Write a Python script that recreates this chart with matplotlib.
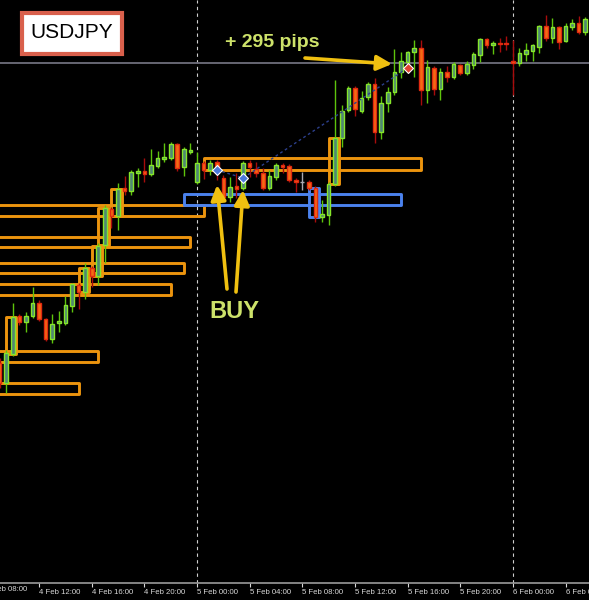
import numpy as np
import matplotlib
matplotlib.use("Agg")
import matplotlib.pyplot as plt
from matplotlib.patches import Rectangle

# USDJPY M30 candles, index 0 = 5 Feb 00:00 (one step = 30 min)
bar_idx = np.arange(-30, 60)
opens = [117.37, 117.17, 117.46, 117.84, 117.78, 117.84, 117.97, 117.81, 117.61, 117.77,
         117.77, 117.94, 118.15, 118.08, 118.32, 118.24, 118.55, 118.91, 118.84, 119.12,
         119.09, 119.27, 119.29, 119.26, 119.34, 119.41, 119.42, 119.56, 119.33, 119.48,
         119.18, 119.37, 119.30, 119.38, 119.22, 119.03, 119.14, 119.12, 119.37, 119.31,
         119.27, 119.12, 119.23, 119.35, 119.34, 119.20, 119.18, 119.18, 119.12, 118.83,
         118.85, 119.16, 119.62, 119.90, 120.12, 119.89, 120.03, 120.16, 119.68, 119.97,
         120.08, 120.28, 120.38, 120.48, 120.52, 120.10, 120.32, 120.11, 120.28, 120.23,
         120.35, 120.27, 120.35, 120.45, 120.61, 120.55, 120.57, 120.57, 120.39, 120.37,
         120.46, 120.49, 120.53, 120.74, 120.62, 120.73, 120.59, 120.73, 120.77, 120.68]
highs = [117.42, 117.50, 117.97, 117.86, 117.88, 118.13, 118.00, 117.82, 117.86, 117.89,
         118.04, 118.17, 118.17, 118.37, 118.34, 118.57, 118.95, 118.93, 119.17, 119.24,
         119.30, 119.32, 119.42, 119.51, 119.49, 119.57, 119.58, 119.57, 119.53, 119.57,
         119.48, 119.39, 119.40, 119.40, 119.25, 119.23, 119.27, 119.39, 119.40, 119.38,
         119.32, 119.30, 119.37, 119.37, 119.36, 119.22, 119.28, 119.20, 119.14, 119.00,
         119.18, 120.20, 119.95, 120.14, 120.14, 120.09, 120.18, 120.22, 120.04, 120.13,
         120.51, 120.48, 120.49, 120.60, 120.60, 120.40, 120.34, 120.32, 120.34, 120.38,
         120.36, 120.39, 120.48, 120.62, 120.62, 120.59, 120.62, 120.64, 120.60, 120.52,
         120.57, 120.56, 120.75, 120.85, 120.82, 120.74, 120.77, 120.81, 120.84, 120.83]
lows = [117.12, 117.07, 117.44, 117.75, 117.68, 117.82, 117.79, 117.59, 117.57, 117.68,
        117.75, 117.88, 117.91, 118.01, 118.13, 118.15, 118.37, 118.72, 118.70, 119.05,
        119.05, 119.13, 119.18, 119.24, 119.32, 119.38, 119.40, 119.29, 119.24, 119.46,
        119.16, 119.21, 119.25, 119.20, 119.00, 118.98, 119.02, 119.10, 119.23, 119.23,
        119.10, 119.10, 119.20, 119.27, 119.18, 119.08, 119.10, 119.10, 118.78, 118.78,
        118.75, 119.14, 119.53, 119.88, 119.84, 119.87, 120.00, 119.57, 119.61, 119.88,
        120.05, 120.22, 120.30, 120.23, 119.95, 119.97, 120.05, 120.00, 120.18, 120.21,
        120.25, 120.25, 120.31, 120.38, 120.52, 120.46, 120.48, 120.50, 120.05, 120.34,
        120.39, 120.39, 120.47, 120.59, 120.57, 120.51, 120.58, 120.70, 120.66, 120.65]
closes = [117.17, 117.47, 117.83, 117.78, 117.84, 117.97, 117.81, 117.61, 117.76, 117.79,
          117.95, 118.16, 118.08, 118.32, 118.24, 118.54, 118.92, 118.84, 119.11, 119.09,
          119.28, 119.29, 119.26, 119.35, 119.42, 119.43, 119.56, 119.32, 119.51, 119.50,
          119.37, 119.30, 119.37, 119.27, 119.03, 119.13, 119.11, 119.37, 119.33, 119.27,
          119.12, 119.24, 119.35, 119.33, 119.20, 119.18, 119.18, 119.12, 118.83, 118.86,
          119.16, 119.62, 119.89, 120.12, 119.91, 120.02, 120.16, 119.68, 119.97, 120.08,
          120.28, 120.39, 120.48, 120.52, 120.10, 120.33, 120.11, 120.28, 120.23, 120.36,
          120.27, 120.36, 120.46, 120.61, 120.55, 120.57, 120.56, 120.56, 120.37, 120.47,
          120.50, 120.55, 120.74, 120.62, 120.73, 120.58, 120.74, 120.77, 120.68, 120.81]

tick_idx = [-32, -24, -16, -8, 0, 8, 16, 24, 32, 40, 48, 56]
tick_labels = ["4 Feb 08:00", "4 Feb 12:00", "4 Feb 16:00", "4 Feb 20:00",
               "5 Feb 00:00", "5 Feb 04:00", "5 Feb 08:00", "5 Feb 12:00",
               "5 Feb 16:00", "5 Feb 20:00", "6 Feb 00:00", "6 Feb 04:00"]
day_breaks = [0, 48]
bid_price = 120.37

# zones: left index, right index, top, bottom
zone_left = [-40, -40, -40, -40, -40, -40, 1]
zone_right = [1, -1, -2, -4, -15, -18, 34]
zone_top = [118.95, 118.63, 118.37, 118.16, 117.49, 117.17, 119.42]
zone_bottom = [118.84, 118.53, 118.27, 118.05, 117.38, 117.06, 119.30]
blue_zone = (-2, 31, 119.06, 118.95)
impulse_orange = [-28, -17, -15, -14, -12, 21]
impulse_blue = [18]

trade_idx = [3, 7, 32]
trade_price = [119.30, 119.22, 120.32]

opens, highs, lows, closes = map(np.array, (opens, highs, lows, closes))

fig = plt.figure(figsize=(5.89, 6.0), dpi=100, facecolor="black")
ax = fig.add_axes([0, 17 / 600, 1, 583 / 600])
ax.set_facecolor("black")
ax.set_xlim(-29.94, 59.57)
ax.set_ylim(121 - 5.83, 121)

ORANGE = "#ec940e"
BLUE = "#4b82ee"

# day separators and bid line
for d in day_breaks:
    ax.axvline(d, color="#d0d0d0", lw=0.8, ls=(0, (3, 3)), zorder=1)
ax.axhline(bid_price, color="#6e6e7c", lw=1.3, zorder=1)

# zones
for l, r, t, b in zip(zone_left, zone_right, zone_top, zone_bottom):
    ax.add_patch(Rectangle((l, b), r - l, t - b, fill=False, ec=ORANGE, lw=2.1,
                           joinstyle="round", zorder=2))
l, r, t, b = blue_zone
ax.add_patch(Rectangle((l, b), r - l, t - b, fill=False, ec=BLUE, lw=2.1,
                       joinstyle="round", zorder=2))
for group, col in ((impulse_orange, ORANGE), (impulse_blue, BLUE)):
    for i in group:
        k = i + 30
        top, bot = max(opens[k], closes[k]), min(opens[k], closes[k])
        ax.add_patch(Rectangle((i - 1, bot), 1.55, top - bot, fill=False, ec=col,
                               lw=2.1, joinstyle="round", zorder=2))

# candles
bull = closes > opens
bear = closes < opens
flat = closes == opens
ax.vlines(bar_idx[bull], lows[bull], highs[bull], color="#5ec40c", lw=1, zorder=3)
ax.vlines(bar_idx[bear], lows[bear], highs[bear], color="#a80c0c", lw=1, zorder=3)
ax.vlines(bar_idx[flat], lows[flat], highs[flat], color="#a8a8b0", lw=1, zorder=3)
ax.bar(bar_idx[bull], closes[bull] - opens[bull], bottom=opens[bull], width=0.55,
       color="#4f8774", edgecolor="#86e62a", lw=1, zorder=4)
ax.bar(bar_idx[bear], opens[bear] - closes[bear], bottom=closes[bear], width=0.55,
       color="#f56a14", edgecolor="#e02a10", lw=1, zorder=4)
ax.hlines(opens[flat], bar_idx[flat] - 0.3, bar_idx[flat] + 0.3, color="#a8a8b0",
          lw=1, zorder=4)

# trade line and markers
ax.plot(trade_idx, trade_price, color="#2c3f8c", lw=1, ls=(0, (2, 2)), zorder=5)
ax.plot(trade_idx[:2], trade_price[:2], "D", ms=5, mfc="#4a78d8", mec="white",
        mew=0.8, zorder=6)
ax.plot(trade_idx[2], trade_price[2], "D", ms=5, mfc="#e04030", mec="white",
        mew=0.8, zorder=6)

# axis styling
for s in ("top", "left", "right"):
    ax.spines[s].set_visible(False)
ax.spines["bottom"].set_color("#9a9a9a")
ax.spines["bottom"].set_linewidth(1.2)
ax.set_yticks([])
shown = [(t, s) for t, s in zip(tick_idx, tick_labels) if t > -29.9]
ax.set_xticks([t for t, _ in shown])
ax.set_xticklabels([s for _, s in shown], fontsize=5.6, family="Liberation Sans",
                   color="#d8d8d8")
for lab in ax.get_xticklabels():
    lab.set_ha("left")
ax.tick_params(axis="x", colors="#d8d8d8", direction="out", length=3, width=0.8, pad=1)
for lab in ax.get_xticklabels():
    lab.set_color("#d8d8d8")
ax.text(tick_idx[0], -0.005, tick_labels[0], transform=ax.get_xaxis_transform(),
        fontsize=5.6, family="Liberation Sans", color="#d8d8d8", ha="left", va="top")

# annotations (figure pixels)
ARROW = dict(arrowstyle="-|>,head_length=0.9,head_width=0.45", color="#f0c010", lw=2.6,
             shrinkA=0, shrinkB=0)
ax.annotate("", xy=(217, 600 - 185), xytext=(227, 600 - 289), xycoords="figure pixels",
            textcoords="figure pixels", arrowprops=ARROW, zorder=7)
ax.annotate("", xy=(243, 600 - 190), xytext=(236, 600 - 292), xycoords="figure pixels",
            textcoords="figure pixels", arrowprops=ARROW, zorder=7)
ax.annotate("", xy=(392, 600 - 64), xytext=(305, 600 - 58), xycoords="figure pixels",
            textcoords="figure pixels", arrowprops=ARROW, zorder=7)
fig.text(234.5 / 589, 288.5 / 600, "BUY", color="#cde26a", fontsize=17, weight="bold",
         family="Liberation Sans", ha="center", va="center")
fig.text(272 / 589, 557.5 / 600, "+ 295 pips", color="#cde26a", fontsize=14,
         weight="bold", family="Liberation Sans", ha="center", va="center")

fig.add_artist(Rectangle((22 / 589, 546 / 600), 100 / 589, 41 / 600,
                         transform=fig.transFigure, fc="white", ec="#d9604c", lw=3))
fig.text(72 / 589, 567 / 600, "USDJPY", color="black", fontsize=15,
         family="Liberation Sans", ha="center", va="center")

fig.savefig("out.png", dpi=100, facecolor="black")
